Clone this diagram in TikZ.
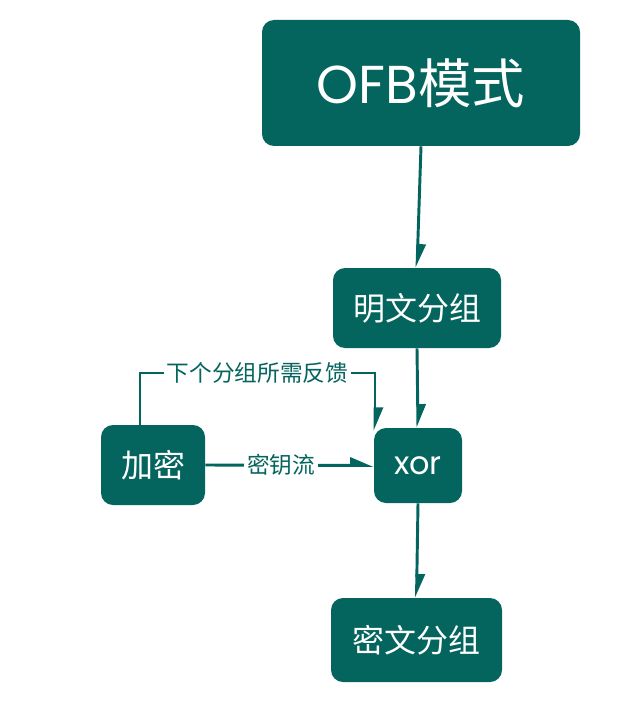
\documentclass[tikz,border=0pt]{standalone}
\usepackage{fontspec}
\setmainfont{Noto Sans CJK SC}
\newfontfamily\lat{Poppins}
\usetikzlibrary{arrows.meta}
\definecolor{teal1}{HTML}{04645E}
\tikzset{
  box/.style={draw=none, fill=teal1, rounded corners=9pt, text=white, inner sep=0pt},
  conn/.style={draw=teal1, line width=2.2pt, -{Triangle[left, length=15pt, width=12pt]}},
  lbl/.style={fill=white, text=teal1, font=\fontsize{17}{20}\selectfont, inner sep=2pt},
}
\begin{document}
\begin{tikzpicture}[x=0.75pt,y=-0.75pt]
\useasboundingbox (0,0) rectangle (639,706);
\node[box, minimum width=238.5pt, minimum height=94.5pt, font=\fontsize{40}{48}\selectfont] (ofb) at (421,83) {{\lat OFB}模式};
\node[box, minimum width=126pt, minimum height=60pt, font=\fontsize{24}{28}\selectfont] (ming) at (417,308) {明文分组};
\node[box, minimum width=66pt, minimum height=56.25pt, font=\fontsize{24}{28}\selectfont] (xor) at (418,465.5) {\lat xor};
\node[box, minimum width=78pt, minimum height=60pt, font=\fontsize{24}{28}\selectfont] (jm) at (153,465) {加密};
\node[box, minimum width=128.25pt, minimum height=63pt, font=\fontsize{24}{28}\selectfont] (mi) at (416.5,640) {密文分组};
\coordinate (fb1) at (140,373);
\coordinate (fb2) at (375,373);
\coordinate (fbend) at (375,431);
\draw[conn] (ofb.south) -- (ming.north);
\draw[conn] (ming.south) -- (xor.north);
\draw[conn] (xor.south) -- (mi.north);
\draw[conn] (jm.east) -- node[lbl, pos=0.45] {密钥流} (xor.west);
\draw[conn] (jm.north -| fb1) -- (fb1) -- node[lbl] {下个分组所需反馈} (fb2) -- (fbend);
\end{tikzpicture}
\end{document}
